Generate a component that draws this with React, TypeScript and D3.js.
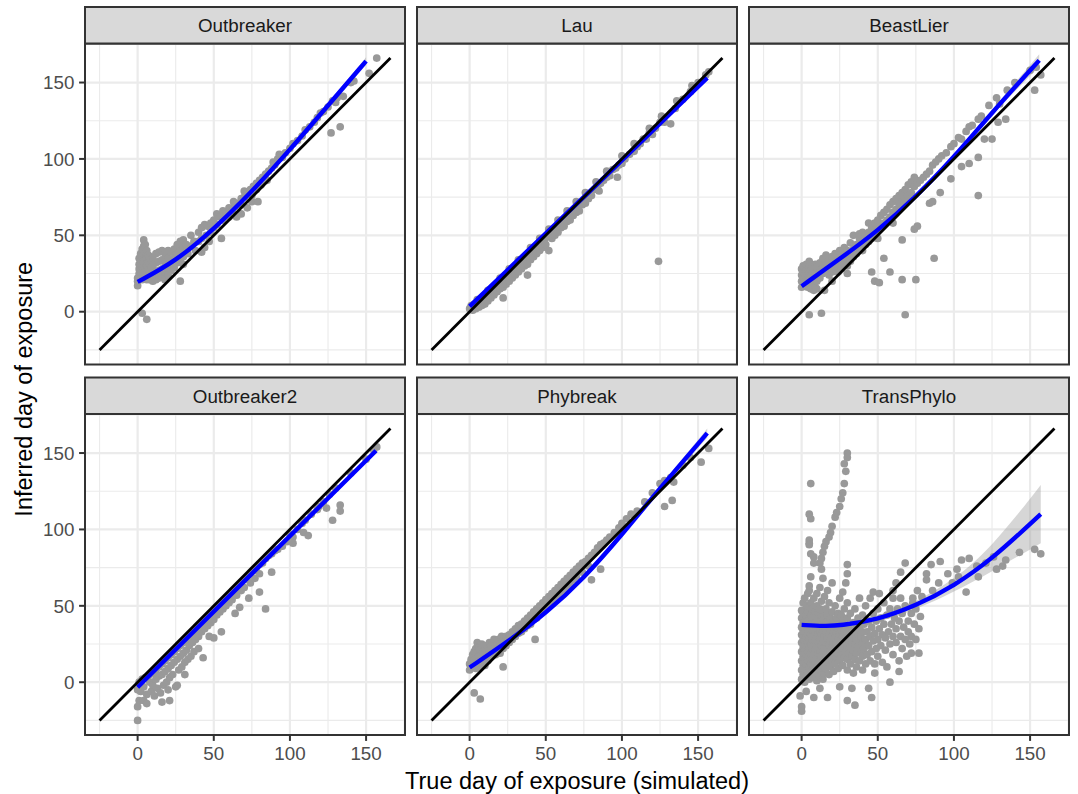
import React, { useEffect } from 'react';
import * as d3 from 'd3';

// facet labels, in display order (row by row)
const panelNames = ['Outbreaker', 'Lau', 'BeastLier', 'Outbreaker2', 'Phybreak', 'TransPhylo'];

const majorTicks = [0, 50, 100, 150];
const minorTicks = [-25, 25, 75, 125, 175];
const identityRange = [-25, 166];
const axisDomain = [-34.55, 175.55];

// scatter: [true day, inferred day]
const ptsOutbreaker = [
  [0,17],[0,20],[0,22],[1,25],[1,28],[1,31],[1,35],[2,38],[2,33],[2,27],[2,23],[3,41],[3,36],[3,30],[3,25],[3,21],
  [4,47],[4,43],[4,38],[4,33],[4,28],[4,22],[5,44],[5,39],[5,34],[5,29],[5,24],[6,40],[6,35],[6,30],[6,25],[6,21],
  [7,37],[7,32],[7,27],[7,22],[8,36],[8,31],[8,26],[8,21],[9,34],[9,29],[9,23],[10,35],[10,30],[10,25],[10,20],
  [12,38],[12,32],[12,26],[12,21],[14,39],[14,33],[14,27],[14,22],[16,40],[16,34],[16,28],[16,23],[18,38],[18,32],
  [18,26],[18,21],[20,40],[20,35],[20,29],[20,24],[22,39],[22,33],[22,27],[24,41],[24,35],[24,29],[26,44],[26,38],
  [26,32],[28,46],[28,40],[28,34],[28,20],[30,47],[30,42],[30,36],[30,31],[32,44],[33,38],[35,50],[35,43],[37,46],
  [38,40],[40,52],[40,46],[42,55],[42,48],[42,39],[44,57],[44,42],[45,50],[46,56],[47,46],[48,58],[48,52],[50,60],
  [50,55],[52,64],[52,57],[54,62],[55,48],[56,66],[56,60],[58,64],[60,68],[60,62],[62,66],[63,72],[64,69],[65,62],
  [66,71],[68,74],[68,70],[68,64],[70,79],[70,75],[72,77],[72,68],[74,80],[75,76],[75,72],[76,82],[78,84],[78,80],
  [79,72],[80,86],[81,83],[82,88],[84,90],[85,86],[86,92],[88,94],[89,98],[90,96],[92,100],[93,103],[95,101],
  [97,104],[100,107],[102,110],[105,112],[108,115],[110,119],[113,121],[116,124],[118,127],[120,130],[122,131],
  [125,134],[127,117],[128,138],[130,137],[131,140],[133,121],[135,141],[140,150],[142,151],[152,156],[157,166],
  [3,-1],[6,-5]
];

const ptsLau = [
  [0,2],[1,4],[2,1],[3,5],[4,2],[5,6],[6,3],[7,7],[8,4],[9,8],[10,5],[11,10],[12,7],[13,11],[14,9],[15,14],[16,11],
  [17,15],[18,13],[19,17],[20,15],[21,19],[22,16],[22,9],[23,21],[24,18],[25,22],[26,20],[27,25],[28,22],[29,26],
  [30,24],[31,28],[32,26],[33,30],[34,28],[35,33],[36,30],[37,35],[38,31],[38,24],[39,37],[40,34],[41,39],[42,36],
  [43,41],[44,38],[45,43],[46,40],[47,45],[48,42],[49,47],[50,44],[51,49],[52,40],[53,51],[54,48],[55,53],[56,50],
  [57,55],[58,52],[59,57],[60,55],[61,59],[62,56],[63,61],[64,59],[65,63],[66,60],[67,65],[68,63],[69,67],[70,65],
  [71,69],[72,66],[73,71],[74,70],[75,73],[76,71],[77,75],[78,74],[79,77],[80,76],[82,80],[84,82],[85,79],[86,84],
  [88,86],[90,88],[92,89],[94,93],[96,94],[97,88],[98,96],[100,97],[102,100],[105,103],[108,105],[110,108],
  [112,110],[114,113],[116,113],[118,117],[120,116],[122,120],[125,124],[128,124],[132,123],[135,133],[140,139],
  [145,144],[150,150],[155,155],[157,157],[124,33],
  [5,8],[12,14],[20,22],[26,28],[32,34],[40,42],[46,48],[52,54],[58,60],[64,66],[70,72],[76,78],[83,85],[90,92],
  [100,102],[108,110],[118,120],[126,128],[136,138],[146,148]
];

const ptsBeastLier = [
  [0,16],[0,20],[0,24],[0,28],[1,18],[1,22],[1,26],[1,30],[2,17],[2,21],[2,25],[2,29],[3,19],[3,23],[3,27],[3,31],
  [4,16],[4,20],[4,24],[4,28],[5,18],[5,22],[5,26],[5,30],[5,33],[6,15],[6,19],[6,23],[6,27],[7,17],[7,21],[7,25],
  [7,29],[8,14],[8,19],[8,23],[8,27],[9,16],[9,21],[9,25],[9,31],[10,15],[10,20],[10,24],[10,29],[12,22],[12,27],
  [12,32],[14,25],[14,30],[14,35],[15,14],[16,27],[16,32],[16,37],[18,24],[18,29],[18,34],[20,26],[20,31],[20,36],
  [20,20],[22,28],[22,33],[22,38],[24,26],[24,30],[24,35],[25,40],[26,28],[26,33],[26,38],[28,31],[28,36],[28,42],
  [30,30],[30,35],[30,40],[30,25],[32,33],[32,38],[32,45],[34,36],[34,41],[34,50],[36,38],[36,44],[38,42],[38,48],
  [38,51],[40,40],[40,45],[40,52],[42,44],[42,49],[44,46],[44,52],[44,58],[46,48],[46,55],[46,26],[47,57],[48,52],
  [48,58],[48,20],[50,54],[50,60],[50,48],[51,19],[52,56],[52,63],[54,58],[54,65],[54,35],[56,60],[56,67],[58,62],
  [58,70],[58,26],[60,58],[60,65],[60,72],[62,67],[62,74],[64,70],[64,76],[66,72],[66,78],[66,47],[66,21],[68,74],
  [68,80],[68,-2],[70,76],[70,83],[72,78],[72,85],[74,82],[74,88],[74,54],[75,21],[76,84],[76,56],[78,86],[80,88],
  [82,90],[84,92],[84,71],[86,96],[86,72],[87,35],[88,98],[90,100],[91,78],[92,102],[95,104],[98,108],[98,87],
  [100,110],[103,114],[105,113],[105,95],[108,118],[110,121],[110,97],[112,122],[116,126],[116,101],[116,76],
  [118,128],[120,113],[123,135],[125,113],[128,140],[129,124],[130,136],[134,126],[135,145],[140,150],[150,158],
  [153,145],[154,160],[157,155],[5,-2],[13,-1]
];

const ptsOutbreaker2 = [
  [0,-5],[1,0],[2,-6],[3,2],[4,-3],[5,3],[6,-8],[7,4],[8,0],[9,-6],[10,6],[10,-2],[11,-9],[12,8],[12,2],[13,-4],
  [14,10],[14,4],[15,-7],[16,12],[16,5],[17,-2],[18,14],[18,7],[19,0],[20,16],[20,9],[20,-5],[21,3],[22,18],[22,11],
  [23,5],[24,20],[24,13],[25,-3],[26,22],[26,15],[27,8],[28,24],[28,17],[29,10],[30,26],[30,19],[31,13],[32,28],
  [32,21],[33,15],[34,30],[34,24],[35,17],[36,32],[36,26],[37,20],[38,34],[38,28],[40,36],[40,30],[40,22],[42,38],
  [42,33],[43,16],[44,40],[44,35],[46,42],[46,37],[47,30],[48,45],[48,39],[50,47],[50,41],[50,29],[52,49],[52,44],
  [54,51],[54,46],[55,33],[56,53],[56,48],[58,55],[58,50],[60,57],[60,52],[62,59],[62,54],[64,61],[64,45],[65,57],
  [66,63],[67,49],[68,65],[68,60],[70,67],[70,62],[72,69],[73,55],[74,71],[74,65],[76,73],[77,68],[78,75],[80,77],
  [80,71],[80,59],[82,78],[84,81],[84,48],[86,83],[88,84],[88,72],[90,86],[92,87],[95,89],[98,92],[100,97],
  [102,95],[102,91],[105,100],[108,104],[109,98],[110,106],[112,96],[114,110],[118,113],[119,115],[122,118],
  [124,114],[126,123],[128,106],[130,127],[133,116],[133,112],[140,137],[150,146],[155,152],[157,154],
  [0,-25],[0,-16],[1,-12],[4,-12],[6,-14],[16,-13],[21,-12],[26,-2],[31,5]
];

const ptsPhybreak = [
  [0,8],[0,12],[1,15],[1,10],[2,18],[2,13],[3,20],[3,11],[4,22],[4,16],[4,9],[5,26],[5,19],[5,13],[6,23],[6,17],
  [6,10],[7,21],[7,14],[8,25],[8,18],[8,12],[9,20],[9,15],[10,22],[10,16],[10,11],[11,24],[11,18],[12,20],[12,14],
  [13,26],[13,21],[14,23],[14,17],[15,26],[15,20],[16,22],[16,28],[17,24],[17,18],[18,26],[18,21],[19,28],[20,25],
  [20,19],[21,30],[22,27],[22,22],[22,10],[24,30],[24,24],[26,31],[26,26],[28,33],[28,28],[30,35],[30,30],[32,37],
  [32,32],[34,38],[34,33],[36,40],[36,35],[38,42],[38,37],[40,44],[40,38],[42,46],[42,41],[43,28],[44,48],[44,42],
  [46,50],[46,45],[48,52],[48,47],[50,54],[50,49],[52,56],[52,51],[54,58],[54,52],[56,60],[56,55],[58,62],[58,57],
  [60,64],[60,58],[62,66],[62,60],[64,68],[64,62],[66,70],[66,64],[68,72],[68,67],[70,74],[70,69],[72,76],[74,78],
  [74,72],[76,79],[78,81],[78,76],[80,83],[80,67],[82,85],[84,88],[86,90],[86,74],[88,91],[90,93],[92,95],[95,98],
  [98,101],[100,104],[103,107],[106,110],[110,112],[115,118],[120,124],[125,130],[128,115],[128,132],[132,134],
  [133,119],[134,131],[140,142],[145,147],[152,144],[157,153],[3,-7],[7,-11]
];

const ptsTransPhylo = [
  [0,2],[0,8],[0,14],[0,20],[0,26],[0,31],[0,36],[0,42],[0,47],[1,5],[1,11],[1,17],[1,23],[1,29],[1,34],[1,39],
  [1,45],[1,52],[2,0],[2,9],[2,15],[2,21],[2,27],[2,33],[2,40],[2,55],[3,4],[3,12],[3,18],[3,24],[3,30],[3,37],
  [3,44],[3,50],[4,7],[4,14],[4,20],[4,26],[4,32],[4,38],[4,46],[4,58],[5,2],[5,10],[5,17],[5,23],[5,29],[5,35],
  [5,41],[5,49],[5,63],[6,5],[6,12],[6,19],[6,25],[6,31],[6,38],[6,44],[6,52],[7,8],[7,15],[7,22],[7,28],[7,34],
  [7,41],[7,48],[8,3],[8,11],[8,18],[8,24],[8,30],[8,36],[8,43],[8,55],[9,6],[9,14],[9,21],[9,27],[9,33],[9,39],
  [9,46],[10,1],[10,9],[10,16],[10,23],[10,29],[10,35],[10,42],[10,50],[10,58],[11,12],[11,19],[11,26],[11,32],
  [11,38],[11,45],[12,4],[12,14],[12,21],[12,28],[12,34],[12,40],[12,48],[12,62],[13,8],[13,17],[13,24],[13,31],
  [13,37],[13,44],[13,53],[14,2],[14,11],[14,20],[14,27],[14,33],[14,40],[14,47],[14,68],[15,6],[15,15],[15,23],
  [15,30],[15,36],[15,43],[15,56],[16,9],[16,18],[16,26],[16,33],[16,39],[16,48],[17,13],[17,22],[17,29],[17,36],
  [17,44],[17,60],[18,5],[18,16],[18,24],[18,31],[18,38],[18,52],[19,10],[19,20],[19,27],[19,34],[19,42],[20,14],
  [20,22],[20,30],[20,37],[20,46],[20,65],[21,7],[21,18],[21,26],[21,33],[21,40],[22,12],[22,21],[22,29],[22,36],
  [22,50],[23,16],[23,25],[23,32],[23,42],[24,9],[24,19],[24,28],[24,35],[24,45],[25,14],[25,23],[25,31],[25,38],
  [25,55],[26,18],[26,27],[26,34],[26,44],[27,11],[27,22],[27,30],[27,40],[28,16],[28,25],[28,33],[28,48],[29,20],
  [29,29],[29,37],[30,8],[30,15],[30,24],[30,32],[30,42],[30,52],[31,19],[31,28],[31,36],[32,12],[32,23],[32,31],
  [32,45],[33,17],[33,26],[33,34],[34,6],[34,21],[34,29],[34,39],[35,15],[35,25],[35,33],[35,48],[36,10],[36,19],
  [36,28],[36,37],[37,23],[37,31],[37,42],[38,14],[38,26],[38,35],[38,55],[39,20],[39,30],[40,8],[40,17],[40,25],
  [40,33],[40,44],[41,22],[41,38],[42,12],[42,28],[42,50],[43,18],[43,33],[44,24],[44,40],[45,14],[45,30],[45,55],
  [46,20],[46,36],[47,27],[47,45],[47,59],[48,12],[48,32],[48,6],[49,22],[49,40],[50,17],[50,28],[50,48],[51,35],
  [51,58],[52,24],[52,42],[53,13],[53,31],[54,38],[54,52],[55,21],[55,29],[56,44],[56,10],[57,33],[58,25],[58,48],
  [58,0],[59,38],[60,18],[60,30],[60,55],[60,60],[61,42],[62,26],[62,35],[62,65],[63,48],[64,14],[64,40],[64,7],
  [65,30],[65,55],[65,72],[66,22],[66,45],[67,36],[68,28],[68,50],[68,78],[69,17],[70,40],[70,33],[71,25],[72,45],
  [72,30],[72,19],[73,55],[73,52],[74,38],[75,28],[75,48],[76,60],[77,35],[77,19],[78,43],[79,56],
  [82,67],[82,71],[85,77],[86,60],[90,65],[91,79],[96,71],[99,65],[102,74],[103,69],[105,80],[108,59],[110,81],
  [115,76],[116,69],[121,78],[126,82],[128,74],[132,76],[134,80],[143,85],[153,87],[157,84],
  [30,150],[30,147],[29,138],[28,130],[27,124],[25,115],[22,108],[20,102],[18,95],[15,89],[14,85],[12,78],
  [28,143],[26,120],[23,111],[19,98],[16,92],[13,81],
  [6,130],[5,110],[6,107],[5,93],[5,91],[5,90],[6,84],[8,82],[8,78],[6,69],[5,60],[13,74],
  [30,77],[30,71],[29,65],[27,59],
  [0,-16],[0,-19],[-1,-9],[3,-6],[8,-10],[17,-10],[12,-4],[25,-3],[33,-4],[44,-4],[46,-10],[35,-15],[30,-12]
];

// fitted smooth: [x, fit, half-width of confidence band]
const smoothOutbreaker = [[0,19.5,1.5],[25,33,0.8],[50,54,0.6],[75,78.5,0.6],[100,106,0.8],[125,135,1.2],[150,164,2.5]];
const smoothLau = [[0,3.5,0.8],[78,78,0.3],[156,153,1.5]];
const smoothBeastLier = [[0,16.7,1.5],[25,34.5,0.8],[50,53,0.6],[75,75,0.8],[100,101,1],[125,130.5,1.6],[156,164.5,4]];
const smoothOutbreaker2 = [[0,-3.3,1],[78,74,0.4],[156.5,151.5,1.5]];
const smoothPhybreak = [[0,9.6,1.5],[25,26.5,0.8],[50,45,0.6],[75,68,0.7],[100,96.5,0.9],[125,127,1.5],[156,163,3]];
const smoothTransPhylo = [[0,37.5,3.5],[15,36.7,2.5],[25,37,2.2],[50,41,2],[75,50,2.5],[100,63,4],[125,80.5,8],[157,110,19]];

const allPoints = [ptsOutbreaker, ptsLau, ptsBeastLier, ptsOutbreaker2, ptsPhybreak, ptsTransPhylo];
const allSmooths = [smoothOutbreaker, smoothLau, smoothBeastLier, smoothOutbreaker2, smoothPhybreak, smoothTransPhylo];

const W = 1078, H = 794;
const colLeft = [85, 417, 749];
const panelW = 320, panelH = 321;
const stripTop = [7, 377.5];
const panelTop = [43.5, 414];
const FONT = '"Liberation Sans", Arial, Helvetica, sans-serif';

function Panel({ idx }: { idx: number }) {
  const col = idx % 3, row = Math.floor(idx / 3);
  const x0 = colLeft[col], y0 = panelTop[row];
  const x = d3.scaleLinear().domain(axisDomain).range([x0, x0 + panelW]);
  const y = d3.scaleLinear().domain(axisDomain).range([y0 + panelH, y0]);
  const sm = allSmooths[idx];
  const curve = sm.length > 3 ? d3.curveBasis : d3.curveLinear;
  const line = d3.line<number[]>().x(d => x(d[0])).y(d => y(d[1])).curve(curve);
  const area = d3.area<number[]>().x(d => x(d[0])).y0(d => y(d[1] - d[2])).y1(d => y(d[1] + d[2])).curve(curve);
  const clipId = `clip${idx}`;
  return (
    <g>
      <defs>
        <clipPath id={clipId}><rect x={x0} y={y0} width={panelW} height={panelH} /></clipPath>
      </defs>
      <rect x={x0} y={y0} width={panelW} height={panelH} fill="#fff" />
      <g clipPath={`url(#${clipId})`}>
        {minorTicks.map(t => (
          <g key={'mn' + t}>
            <line x1={x(t)} x2={x(t)} y1={y0} y2={y0 + panelH} stroke="#EBEBEB" strokeWidth={1.15} />
            <line x1={x0} x2={x0 + panelW} y1={y(t)} y2={y(t)} stroke="#EBEBEB" strokeWidth={1.15} />
          </g>
        ))}
        {majorTicks.map(t => (
          <g key={'mj' + t}>
            <line x1={x(t)} x2={x(t)} y1={y0} y2={y0 + panelH} stroke="#EBEBEB" strokeWidth={2.2} />
            <line x1={x0} x2={x0 + panelW} y1={y(t)} y2={y(t)} stroke="#EBEBEB" strokeWidth={2.2} />
          </g>
        ))}
        {allPoints[idx].map((p, i) => (
          <circle key={i} cx={x(p[0])} cy={y(p[1])} r={3.85} fill="#999999" />
        ))}
        <path d={area(sm) || ''} fill="rgba(153,153,153,0.4)" />
        <path d={line(sm) || ''} fill="none" stroke="#0000FF" strokeWidth={4.4} />
        <line x1={x(identityRange[0])} y1={y(identityRange[0])} x2={x(identityRange[1])} y2={y(identityRange[1])}
          stroke="#000" strokeWidth={2.8} />
      </g>
      <rect x={x0} y={y0} width={panelW} height={panelH} fill="none" stroke="#333333" strokeWidth={2} />
      {/* strip */}
      <rect x={x0} y={stripTop[row]} width={panelW} height={y0 - stripTop[row]} fill="#D9D9D9" stroke="#333333" strokeWidth={2} />
      <text x={x0 + panelW / 2} y={(stripTop[row] + y0) / 2} dy="0.36em" textAnchor="middle"
        fontSize={18.8} fill="#1A1A1A" fontFamily={FONT}>{panelNames[idx]}</text>
      {/* axes */}
      {row === 1 && majorTicks.map(t => (
        <g key={'xt' + t}>
          <line x1={x(t)} x2={x(t)} y1={y0 + panelH} y2={y0 + panelH + 5.9} stroke="#333333" strokeWidth={2} />
          <text x={x(t)} y={y0 + panelH + 24.5} textAnchor="middle" fontSize={18.8} fill="#4D4D4D" fontFamily={FONT}>{t}</text>
        </g>
      ))}
      {col === 0 && majorTicks.map(t => (
        <g key={'yt' + t}>
          <line x1={x0 - 5.9} x2={x0} y1={y(t)} y2={y(t)} stroke="#333333" strokeWidth={2} />
          <text x={x0 - 10.6} y={y(t)} dy="0.36em" textAnchor="end" fontSize={18.8} fill="#4D4D4D" fontFamily={FONT}>{t}</text>
        </g>
      ))}
    </g>
  );
}

export default function App() {
  useEffect(() => {
    document.body.style.margin = '0';
  }, []);
  return (
    <svg width={W} height={H} style={{ display: 'block', background: '#fff' }}>
      <rect width={W} height={H} fill="#fff" />
      {panelNames.map((_, i) => <Panel key={i} idx={i} />)}
      <text x={(colLeft[0] + colLeft[2] + panelW) / 2} y={788.5} textAnchor="middle" fontSize={23.5} fill="#000" fontFamily={FONT}>
        True day of exposure (simulated)
      </text>
      <text transform={`translate(31.5, ${(panelTop[0] + panelTop[1] + panelH) / 2}) rotate(-90)`} textAnchor="middle"
        fontSize={23.5} fill="#000" fontFamily={FONT}>
        Inferred day of exposure
      </text>
    </svg>
  );
}
